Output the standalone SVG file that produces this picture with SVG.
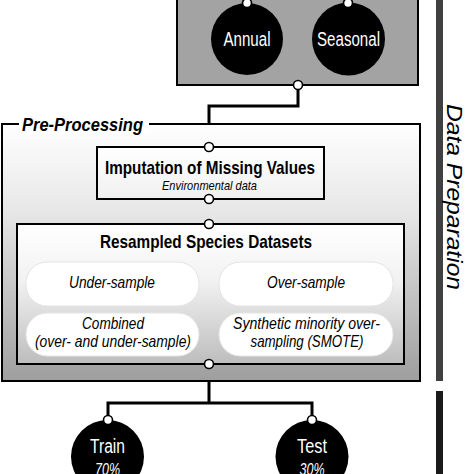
<svg xmlns="http://www.w3.org/2000/svg" width="474" height="474" viewBox="0 0 474 474">
<defs>
<linearGradient id="gOuter" x1="0" y1="0" x2="0" y2="1">
<stop offset="0" stop-color="#ffffff"/>
<stop offset="0.35" stop-color="#e6e6e6"/>
<stop offset="1" stop-color="#9e9e9e"/>
</linearGradient>
<linearGradient id="gInner" x1="0" y1="0" x2="0" y2="1">
<stop offset="0" stop-color="#ffffff"/>
<stop offset="0.4" stop-color="#f2f2f2"/>
<stop offset="1" stop-color="#bdbdbd"/>
</linearGradient>
<linearGradient id="gImp" x1="0" y1="0" x2="0" y2="1">
<stop offset="0" stop-color="#ffffff"/>
<stop offset="1" stop-color="#f0f0f0"/>
</linearGradient>
</defs>
<style>
text{font-family:"Liberation Sans",Arial,sans-serif;}
.c{text-anchor:middle;}
.circ{fill:#000;}
.wt{fill:#fff;font-size:20px;}
.bold{font-weight:bold;font-size:19px;fill:#000;}
.it{font-style:italic;font-size:17px;fill:#000;}
.dot{fill:#fff;stroke:#000;stroke-width:1.6;}
.conn{fill:none;stroke:#000;stroke-width:3;}
.pill{fill:#fff;stroke:#e4e4e4;stroke-width:1;}
</style>

<!-- side bars -->
<rect x="436" y="0" width="7" height="381" fill="#404040"/>
<rect x="436" y="391" width="7" height="83" fill="#1a1a1a"/>
<text transform="translate(447,104) rotate(90)" style="font-style:italic;font-size:22px;fill:#000;" textLength="186" lengthAdjust="spacingAndGlyphs">Data Preparation</text>

<!-- top group box -->
<g id="topbox">
<rect x="177" y="-10" width="241" height="95" fill="#a3a3a3" stroke="#000" stroke-width="2"/>
</g>

<!-- connectors -->
<g id="connectors">
<path class="conn" d="M247 -10 V2 M348 -10 V2"/>
<path class="conn" d="M298 85 V106 H209 V147"/>
<path class="conn" d="M209 199 V224"/>
<path class="conn" d="M209 364 V403 M108 420 V403 H312 V420"/>
</g>

<g id="annual">
<circle class="circ" cx="247" cy="39" r="36"/>
<text class="c wt" x="247" y="46" textLength="47" lengthAdjust="spacingAndGlyphs">Annual</text>
</g>
<g id="seasonal">
<circle class="circ" cx="348.5" cy="39" r="36.5"/>
<text class="c wt" x="348.5" y="46" textLength="63" lengthAdjust="spacingAndGlyphs">Seasonal</text>
</g>

<!-- pre-processing -->
<g id="preprocessing">
<rect x="2" y="124" width="418" height="257" fill="url(#gOuter)" stroke="#000" stroke-width="2"/>
<rect x="19" y="114" width="130" height="20" fill="#fff"/>
<text x="22" y="131" style="font-weight:bold;font-style:italic;font-size:19px;fill:#000;" textLength="121" lengthAdjust="spacingAndGlyphs">Pre-Processing</text>
</g>

<g id="imputation">
<rect x="97" y="147" width="227" height="52" fill="url(#gImp)" stroke="#000" stroke-width="2"/>
<text class="c bold" x="210" y="174" textLength="210" lengthAdjust="spacingAndGlyphs">Imputation of Missing Values</text>
<text class="c" x="209.5" y="190" style="font-style:italic;font-size:13px;fill:#000;" textLength="95" lengthAdjust="spacingAndGlyphs">Environmental data</text>
</g>

<g id="resampled">
<rect x="17" y="224" width="387" height="140" fill="url(#gInner)" stroke="#000" stroke-width="2"/>
<text class="c bold" x="206" y="248" textLength="212" lengthAdjust="spacingAndGlyphs">Resampled Species Datasets</text>
</g>

<g id="undersample">
<rect class="pill" x="26" y="262" width="173" height="44" rx="21"/>
<text class="c it" x="112" y="288" textLength="86" lengthAdjust="spacingAndGlyphs">Under-sample</text>
</g>
<g id="oversample">
<rect class="pill" x="219" y="262" width="174" height="44" rx="21"/>
<text class="c it" x="306" y="288" textLength="78" lengthAdjust="spacingAndGlyphs">Over-sample</text>
</g>
<g id="combined">
<rect class="pill" x="26" y="313" width="173" height="43" rx="21"/>
<text class="c it" x="113" y="329" textLength="62" lengthAdjust="spacingAndGlyphs">Combined</text>
<text class="c it" x="113" y="347" textLength="156" lengthAdjust="spacingAndGlyphs">(over- and under-sample)</text>
</g>
<g id="smote">
<rect class="pill" x="219" y="313" width="174" height="43" rx="21"/>
<text class="c it" x="306.5" y="329" textLength="147" lengthAdjust="spacingAndGlyphs">Synthetic minority over-</text>
<text class="c it" x="307" y="347" textLength="113" lengthAdjust="spacingAndGlyphs">sampling (SMOTE)</text>
</g>

<g id="train">
<circle class="circ" cx="107.5" cy="456.5" r="36.5"/>
<text class="c wt" x="107.5" y="453" textLength="35" lengthAdjust="spacingAndGlyphs">Train</text>
<text class="c wt" x="107.5" y="475" style="font-style:italic;font-size:17px;" textLength="25" lengthAdjust="spacingAndGlyphs">70%</text>
</g>
<g id="test">
<circle class="circ" cx="312" cy="456.5" r="36.5"/>
<text class="c wt" x="312" y="453" textLength="30" lengthAdjust="spacingAndGlyphs">Test</text>
<text class="c wt" x="312" y="475" style="font-style:italic;font-size:17px;" textLength="25" lengthAdjust="spacingAndGlyphs">30%</text>
</g>

<!-- connector dots -->
<g id="dots">
<circle class="dot" cx="247" cy="3" r="4.5"/>
<circle class="dot" cx="348" cy="3" r="4.5"/>
<circle class="dot" cx="298" cy="85" r="4.5"/>
<circle class="dot" cx="209" cy="147" r="4.5"/>
<circle class="dot" cx="209" cy="199" r="4.5"/>
<circle class="dot" cx="209" cy="224" r="4.5"/>
<circle class="dot" cx="209" cy="364" r="4.5"/>
<circle class="dot" cx="108" cy="420" r="4.5"/>
<circle class="dot" cx="312" cy="420" r="4.5"/>
</g>
</svg>
